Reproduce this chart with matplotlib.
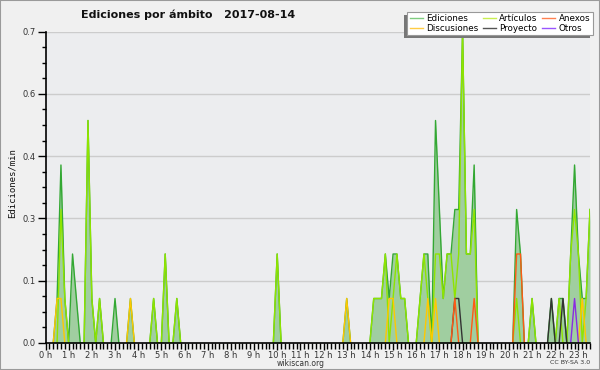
import numpy as np
import matplotlib
matplotlib.use("Agg")
import matplotlib.pyplot as plt
from matplotlib.patches import Rectangle
from matplotlib.lines import Line2D

# ---- data: 10-minute bins (bin index -> edits/min) ----
n_bins = 142  # 00:00 .. 23:30

ediciones_bins = [3, 4, 5, 7, 8, 11, 12, 14, 18, 22, 28, 31, 34, 60, 78,
                  85, 86, 87, 88, 89, 90, 91, 92, 93,
                  97, 98, 99, 101, 102, 103, 104, 105, 106, 107, 108, 109, 110, 111,
                  122, 123, 126, 131, 133, 134, 136, 137, 138, 139, 140, 141]
ediciones_vals = [0.1, 0.4, 0.1, 0.2, 0.1, 0.5, 0.1, 0.1, 0.1, 0.1, 0.1, 0.2, 0.1, 0.2, 0.1,
                  0.1, 0.1, 0.1, 0.2, 0.1, 0.2, 0.2, 0.1, 0.1,
                  0.1, 0.2, 0.2, 0.5, 0.3, 0.1, 0.2, 0.2, 0.3, 0.3, 0.7, 0.2, 0.2, 0.4,
                  0.3, 0.2, 0.1, 0.1, 0.1, 0.1, 0.2, 0.4, 0.2, 0.1, 0.1, 0.3]

articulos_bins = [4, 5, 11, 12, 14, 28, 31, 34, 60,
                  85, 86, 87, 88, 90, 91, 92, 93,
                  97, 98, 99, 101, 102, 103, 104, 105, 106, 107, 108, 109, 110, 111,
                  122, 126, 133, 136, 137, 138, 140, 141]
articulos_vals = [0.3, 0.1, 0.5, 0.1, 0.1, 0.1, 0.2, 0.1, 0.2,
                  0.1, 0.1, 0.1, 0.2, 0.1, 0.2, 0.1, 0.1,
                  0.1, 0.2, 0.1, 0.2, 0.2, 0.1, 0.2, 0.2, 0.1, 0.2, 0.7, 0.2, 0.2, 0.3,
                  0.1, 0.1, 0.1, 0.2, 0.3, 0.2, 0.1, 0.3]

discusiones_bins = [3, 4, 22, 78, 89, 90, 99, 101, 139]
discusiones_vals = [0.1, 0.1, 0.1, 0.1, 0.1, 0.1, 0.1, 0.1, 0.1]

proyecto_bins = [106, 107, 131, 134]
proyecto_vals = [0.1, 0.1, 0.1, 0.1]

anexos_bins = [106, 111, 122, 123]
anexos_vals = [0.1, 0.1, 0.2, 0.2]

otros_bins = [137]
otros_vals = [0.1]

hour_labels = [f"{h} h" for h in range(24)]
ytick_vals = [0.0, 0.14, 0.28, 0.42, 0.56, 0.70]
ytick_labels = ["0.0", "0.1", "0.3", "0.4", "0.6", "0.7"]


def series(bins, vals):
    arr = np.zeros(n_bins)
    arr[np.array(bins, dtype=int)] = vals
    return arr


def masked(arr):
    """Hide runs of zeros that are not next to a non-zero value."""
    nz = arr > 0
    keep = nz.copy()
    keep[1:] |= nz[:-1]
    keep[:-1] |= nz[1:]
    out = arr.copy()
    out[~keep] = np.nan
    return out


t = np.arange(n_bins) / 6.0

W, H = 600, 370
fig = plt.figure(figsize=(6, 3.7), dpi=100, facecolor="#f0f0f0")

x0, x1, ytop, ybot = 45.5, 590, 31.5, 343
ax = fig.add_axes([x0 / W, 1 - ybot / H, (x1 - x0) / W, (ybot - ytop) / H])
ax.set_facecolor("#ecedef")
ax.set_xlim(0, t[-1])
ax.set_ylim(0, 0.70)

ed = series(ediciones_bins, ediciones_vals)
ax.fill_between(t, 0, ed, color="#a0cea0", lw=0, zorder=2)
ax.plot(t, masked(ed), color="#33a833", lw=1.0, zorder=3)

styles = [
    (articulos_bins, articulos_vals, "#8fe400"),
    (discusiones_bins, discusiones_vals, "#ffc800"),
    (proyecto_bins, proyecto_vals, "#333333"),
    (anexos_bins, anexos_vals, "#ff5a14"),
    (otros_bins, otros_vals, "#8a2be2"),
]
for b, v, c in styles:
    ax.plot(t, masked(series(b, v)), color=c, lw=1.0, zorder=4)

# axes styling
for s in ["top", "right"]:
    ax.spines[s].set_visible(False)
ax.spines["left"].set_linewidth(1.2)
ax.spines["bottom"].set_linewidth(1.2)
ax.spines["left"].set_zorder(6)
ax.spines["bottom"].set_zorder(6)

ax.set_yticks(ytick_vals)
ax.set_yticklabels(ytick_labels)
ax.set_yticks(np.arange(0, 0.701, 0.035), minor=True)
ax.set_xticks(np.arange(24))
ax.set_xticklabels(hour_labels)
ax.set_xticks(np.arange(0, t[-1] + 1e-6, 1 / 6.0), minor=True)

ax.tick_params(axis="y", which="major", length=6, width=1, labelsize=6,
               pad=1, labelcolor="#333333", direction="out")
ax.tick_params(axis="y", which="minor", length=3, width=1, direction="out")
ax.tick_params(axis="x", which="major", length=5, width=1, labelsize=6,
               pad=0.5, labelcolor="#333333", direction="out")
ax.tick_params(axis="x", which="minor", length=4, width=1, direction="out")

ax.grid(axis="y", which="major", color="#cccccc", lw=1, zorder=0)
ax.set_axisbelow(True)

# texts
fig.text(188 / W, 1 - 15 / H, "Ediciones por ámbito   2017-08-14",
         ha="center", va="center", fontsize=8, fontweight="bold", color="#111111")
fig.text(12 / W, 1 - 183 / H, "Ediciones/min", rotation=90, ha="center",
         va="center", fontsize=6.5, family="DejaVu Sans Mono", color="#111111")
fig.text(301 / W, 1 - 363.5 / H, "wikiscan.org", ha="center", va="center",
         fontsize=5.5, color="#333333")
fig.text(590 / W, 1 - 363 / H, "CC BY-SA 3.0", ha="right", va="center",
         fontsize=4.5, color="#333333")

# legend
handles = [
    Line2D([], [], color="#7fcc7f", lw=1),
    Line2D([], [], color="#ffcc44", lw=1),
    Line2D([], [], color="#c8ee50", lw=1),
    Line2D([], [], color="#555555", lw=1),
    Line2D([], [], color="#ff8050", lw=1),
    Line2D([], [], color="#9955ff", lw=1),
]
labels = ["Ediciones", "Discusiones", "Artículos", "Proyecto", "Anexos", "Otros"]
leg = fig.legend(handles, labels, ncol=3, loc="upper right",
                 bbox_to_anchor=(593 / W, 1 - 11.5 / H), fontsize=6.3,
                 frameon=True, fancybox=False, edgecolor="#999999",
                 facecolor="white", framealpha=1, handlelength=1.5,
                 handletextpad=0.4, columnspacing=0.5, labelspacing=0.05,
                 borderpad=0.3, borderaxespad=0)
leg.get_frame().set_linewidth(0.8)
leg.set_zorder(10)

fig.canvas.draw()
bb = leg.get_window_extent()
shadow = Rectangle(((bb.x0 - 3) / W, (bb.y0 - 3) / H), bb.width / W, bb.height / H,
                   transform=fig.transFigure, facecolor="#777777", edgecolor="none",
                   zorder=9)
fig.add_artist(shadow)

# outer border
fig.add_artist(Rectangle((0, 0), 1, 1, transform=fig.transFigure, fill=False,
                         edgecolor="#9a9a9a", lw=1.5, zorder=20))

fig.savefig("out.png", dpi=100, facecolor=fig.get_facecolor())
